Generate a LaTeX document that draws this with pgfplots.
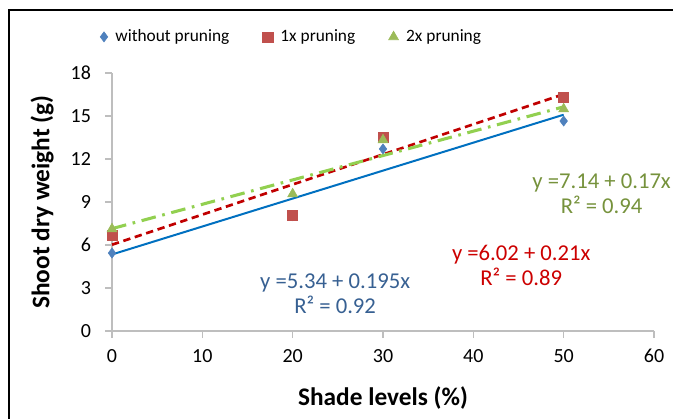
\documentclass[border=0pt]{standalone}
\usepackage{pgfplots}
\pgfplotsset{compat=1.18}
\usepackage{fontspec}
\setmainfont{Carlito}
\definecolor{mblue}{RGB}{79,129,189}
\definecolor{mred}{RGB}{192,80,77}
\definecolor{mgreen}{RGB}{155,187,89}
\definecolor{lblue}{RGB}{0,112,192}
\definecolor{lred}{RGB}{192,0,0}
\definecolor{lgreen}{RGB}{146,208,80}
\definecolor{tblue}{RGB}{55,96,146}
\definecolor{tgreen}{RGB}{118,146,60}
\definecolor{tred}{RGB}{204,0,0}
\definecolor{axgray}{RGB}{190,190,190}
\begin{document}
\begin{tikzpicture}
\path[use as bounding box] (-84pt,-65.25pt) rectangle (420.75pt,248.25pt);
\draw[line width=0.8pt] (-77.25pt,240.75pt) rectangle (440pt,-80pt);
\begin{axis}[
  at={(0,0)}, anchor=south west,
  scale only axis, width=406.5pt, height=193.5pt,
  xmin=0, xmax=60, ymin=0, ymax=18,
  xtick={0,10,...,60}, ytick={0,3,...,18},
  axis x line*=bottom, axis y line*=left,
  axis line style={-, axgray, line width=0.8pt},
  tick style={axgray, line width=0.8pt},
  tick align=outside, major tick length=5.25pt,
  /pgf/number format/assume math mode=true,
  ticklabel style={font=\fontsize{15}{18}\selectfont, black},
  xticklabel style={yshift=-5pt},
  yticklabel style={xshift=-7pt},
  xlabel={Shade levels (\%)},
  ylabel={Shoot dry weight (g)},
  label style={font=\fontsize{19}{22}\selectfont\bfseries},
  xlabel style={at={(axis description cs:0.5,-0.26)}, anchor=center},
  ylabel style={at={(axis description cs:-0.129,0.5)}, anchor=center},
  legend columns=3,
  legend style={draw=none, fill=none, at={(axis description cs:0.332,1.14)}, anchor=center,
    font=\fontsize{13}{15}\selectfont,
    /tikz/every odd column/.append style={column sep=3.75pt},
    /tikz/every even column/.append style={column sep=23pt}},
  clip=false,
]
\addplot[forget plot, lblue, line width=1.5pt] coordinates {(0,5.34) (50,15.09)};
\addplot[forget plot, lred, line width=2pt, dash pattern=on 5.5pt off 3.5pt] coordinates {(0,6.02) (50,16.52)};
\addplot[forget plot, lgreen, line width=2.3pt, dash pattern=on 11pt off 5pt on 2pt off 5pt] coordinates {(0,7.14) (50,15.64)};
\addplot[only marks, mark=diamond*, mark size=3.8pt, color=mblue] coordinates {(0,5.44) (20,8.05) (30,12.7) (50,14.65)};
\addlegendentry{without pruning}
\addplot[only marks, mark=square*, mark size=3.8pt, color=mred] coordinates {(0,6.7) (20,8.09) (30,13.54) (50,16.33)};
\addlegendentry{1x pruning}
\addplot[only marks, mark=triangle*, mark size=4.3pt, color=mgreen] coordinates {(0,7.12) (20,9.56) (30,13.33) (50,15.49)};
\addlegendentry{2x pruning}
\node[tblue, align=center, font=\fontsize{17}{18.75}\selectfont] at (axis cs:24.7,2.6) {y =5.34 + 0.195x\\R² = 0.92};
\node[tred, align=center, font=\fontsize{17}{18.75}\selectfont] at (axis cs:45.3,4.57) {y =6.02 + 0.21x\\R² = 0.89};
\node[tgreen, align=center, font=\fontsize{17}{18.75}\selectfont] at (axis cs:54.2,9.6) {y =7.14 + 0.17x\\R² = 0.94};
\end{axis}
\end{tikzpicture}
\end{document}
